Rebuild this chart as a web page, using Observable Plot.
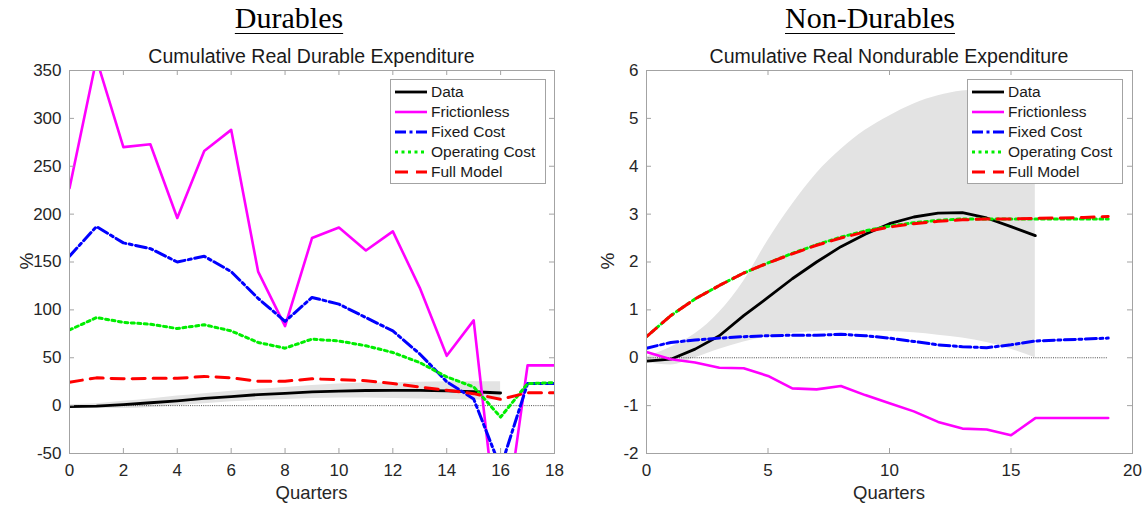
<!DOCTYPE html>
<html>
<head>
<meta charset="utf-8">
<script src="https://cdn.jsdelivr.net/npm/d3@7"></script>
<script src="https://cdn.jsdelivr.net/npm/@observablehq/plot@0.6"></script>
<style>
  body { margin: 0; background: white; }
  #root { position: relative; width: 1146px; height: 506px; background: white; overflow: hidden; font-family: "Liberation Sans", Arial, sans-serif; }
  .panel { position: absolute; top: 0; width: 573px; height: 506px; }
  .head { position: absolute; width: 400px; text-align: center; font-family: "Liberation Serif", "DejaVu Serif", serif; font-size: 30px; color: #000; text-decoration: underline; text-decoration-thickness: 1.3px; text-underline-offset: 5px; line-height: 1; z-index: 3; }
  .sub { position: absolute; width: 500px; text-align: center; font-size: 19.5px; color: #1a1a1a; line-height: 1; z-index: 3; }
  .plotwrap { position: absolute; left: 0; top: 60px; z-index: 1; }
  .ylab { position: absolute; font-size: 19px; color: #262626; transform: translate(-50%, -50%) rotate(-90deg); line-height: 1; z-index: 3; }
  .xlab { position: absolute; width: 200px; text-align: center; font-size: 18.5px; color: #262626; line-height: 1; z-index: 3; }
  .legend { position: absolute; z-index: 4; }
</style>
</head>
<body>
<div id="root"></div>
<script>
// ---------------- DATA ----------------
const seriesNames = ["Data", "Frictionless", "Fixed Cost", "Operating Cost", "Full Model"];

// Durables panel
const durTitle = "Durables";
const durSubtitle = "Cumulative Real Durable Expenditure";
const durQuarters = [0, 1, 2, 3, 4, 5, 6, 7, 8, 9, 10, 11, 12, 13, 14, 15, 16, 17, 18];
const durDataQuarters = [0, 1, 2, 3, 4, 5, 6, 7, 8, 9, 10, 11, 12, 13, 14, 15, 16];
const durData = [-1, -0.5, 1, 3, 5, 7.5, 9.5, 11.5, 12.8, 14.3, 15.2, 15.8, 16, 16, 15.5, 14.5, 13.2];
const durBandLow = [-1.5, -3, -3, -2, 0, 2, 4, 5.5, 6.5, 7.5, 8, 8, 7.5, 7, 6.5, 6, 5.5];
const durBandHigh = [1, 2, 4.5, 7, 10, 12.5, 15, 17, 19, 21, 22.5, 23.5, 24, 24.5, 25, 25, 25];
const durFrictionless = [227, 362, 270, 273, 196, 266, 288, 140, 83, 175, 186, 162, 182, 123, 52, 89, -160, 42, 42];
const durFixed = [156, 187, 170, 164, 150, 156, 140, 112, 88, 113, 106, 92, 78, 54, 25, 7, -65, 23, 23];
const durOperating = [79, 92, 87, 85, 80.5, 84.5, 78, 66, 60, 69.5, 67.5, 62.5, 55.5, 45, 30, 19.5, -12, 23, 24];
const durFull = [24.5, 29, 28, 28.5, 28.5, 30.5, 29, 25.5, 25.5, 28, 27, 26, 23, 19.5, 16, 12.5, 6.5, 13.5, 13.5];
const durXTicks = [0, 2, 4, 6, 8, 10, 12, 14, 16, 18];
const durYTicks = [-50, 0, 50, 100, 150, 200, 250, 300, 350];

// Non-durables panel
const ndTitle = "Non-Durables";
const ndSubtitle = "Cumulative Real Nondurable Expenditure";
const ndQuarters = [0, 1, 2, 3, 4, 5, 6, 7, 8, 9, 10, 11, 12, 13, 14, 15, 16, 17, 18, 19];
const ndDataQuarters = [0, 1, 2, 3, 4, 5, 6, 7, 8, 9, 10, 11, 12, 13, 14, 15, 16];
const ndData = [-0.07, -0.03, 0.18, 0.46, 0.88, 1.26, 1.65, 2.0, 2.32, 2.58, 2.8, 2.94, 3.02, 3.03, 2.92, 2.74, 2.55];
const ndBandLow = [-0.1, -0.15, 0.0, 0.18, 0.33, 0.44, 0.51, 0.55, 0.57, 0.56, 0.55, 0.52, 0.47, 0.41, 0.32, 0.18, 0.0];
const ndBandHigh = [0.02, 0.22, 0.5, 0.95, 1.6, 2.45, 3.2, 3.85, 4.35, 4.75, 5.05, 5.3, 5.47, 5.57, 5.6, 5.6, 5.58];
const ndFrictionless = [0.12, -0.03, -0.1, -0.21, -0.22, -0.38, -0.64, -0.66, -0.59, -0.78, -0.95, -1.12, -1.34, -1.48, -1.5, -1.62, -1.26, -1.26, -1.26, -1.26];
const ndFixed = [0.2, 0.32, 0.37, 0.41, 0.44, 0.46, 0.47, 0.47, 0.49, 0.46, 0.41, 0.34, 0.27, 0.23, 0.21, 0.27, 0.35, 0.37, 0.39, 0.41];
const ndOperating = [0.44, 0.88, 1.23, 1.51, 1.77, 1.98, 2.18, 2.36, 2.52, 2.65, 2.75, 2.82, 2.87, 2.9, 2.9, 2.9, 2.9, 2.9, 2.9, 2.9];
const ndFull = [0.44, 0.88, 1.23, 1.51, 1.77, 1.98, 2.17, 2.35, 2.5, 2.63, 2.73, 2.8, 2.85, 2.88, 2.9, 2.9, 2.91, 2.92, 2.93, 2.95];
const ndXTicks = [0, 5, 10, 15, 20];
const ndYTicks = [-2, -1, 0, 1, 2, 3, 4, 5, 6];

const xLabel = "Quarters";
const yLabel = "%";

// ---------------- STYLES ----------------
const styles = {
  "Data":           {stroke: "#000000", strokeWidth: 2.8, dash: null},
  "Frictionless":   {stroke: "#ff00ff", strokeWidth: 2.6, dash: null},
  "Fixed Cost":     {stroke: "#0000ff", strokeWidth: 3, dash: "11,3.5,3,3.5"},
  "Operating Cost": {stroke: "#00ee00", strokeWidth: 3, dash: "3,3.5"},
  "Full Model":     {stroke: "#ff0000", strokeWidth: 3, dash: "13,8"}
};

const W = 573, H = 446, MT = 10, MB = 53;
const frameColor = "#a3a3a3";

function rows(xs, ys) { return ys.map((v, i) => ({q: xs[i], v})); }
function bandRows(xs, lo, hi) { return lo.map((l, i) => ({q: xs[i], lo: l, hi: hi[i]})); }

function makePlot(cfg) {
  const plotW = W - cfg.mL - cfg.mR;
  const plotH = H - MT - MB;
  const lineMarks = cfg.series.map(s => {
    const st = styles[s.name];
    return Plot.line(rows(s.x, s.y), {
      x: "q", y: "v", stroke: st.stroke, strokeWidth: st.strokeWidth,
      strokeDasharray: st.dash, clip: true, strokeLinejoin: "round"
    });
  });
  return Plot.plot({
    width: W, height: H,
    marginLeft: cfg.mL, marginRight: cfg.mR, marginTop: MT, marginBottom: MB,
    x: {domain: cfg.xDomain},
    y: {domain: cfg.yDomain},
    style: {fontFamily: '"Liberation Sans", Arial, sans-serif', background: "transparent", color: "#262626", overflow: "visible"},
    marks: [
      Plot.areaY(bandRows(cfg.bandX, cfg.bandLo, cfg.bandHi), {x: "q", y1: "lo", y2: "hi", fill: "#e3e3e3", curve: "monotone-x", clip: true}),
      Plot.ruleY([0], {x1: d3.min(cfg.zeroX), x2: d3.max(cfg.zeroX), stroke: "#222", strokeWidth: 0.8, strokeDasharray: "1,1.2"}),
      ...lineMarks,
      Plot.frame({stroke: frameColor, strokeWidth: 1}),
      Plot.tickY(cfg.yTicks, {y: d => d, insetRight: plotW - 5, stroke: frameColor}),
      Plot.tickY(cfg.yTicks, {y: d => d, insetLeft: plotW - 5, stroke: frameColor}),
      Plot.tickX(cfg.xTicks, {x: d => d, insetTop: plotH - 5, stroke: frameColor}),
      Plot.tickX(cfg.xTicks, {x: d => d, insetBottom: plotH - 5, stroke: frameColor}),
      Plot.axisX({ticks: cfg.xTicks, tickSize: 0, tickPadding: 10, label: null, fontSize: 17, fill: "#262626", tickFormat: d => String(d)}),
      Plot.axisY({ticks: cfg.yTicks, tickSize: 0, tickPadding: 8, label: null, fontSize: 17, fill: "#262626", tickFormat: d => String(d)})
    ]
  });
}

function makeLegend(left, top) {
  const w = 156, h = 105;
  const svg = d3.create("svg").attr("class", "legend").attr("width", w).attr("height", h)
    .style("left", left + "px").style("top", top + "px").style("position", "absolute");
  svg.append("rect").attr("x", 0.5).attr("y", 0.5).attr("width", w - 1).attr("height", h - 1)
    .attr("fill", "white").attr("stroke", frameColor);
  seriesNames.forEach((name, i) => {
    const st = styles[name];
    const cy = 13 + i * 20;
    const ln = svg.append("line").attr("x1", 5).attr("x2", 37).attr("y1", cy).attr("y2", cy)
      .attr("stroke", st.stroke).attr("stroke-width", st.strokeWidth);
    if (st.dash) ln.attr("stroke-dasharray", st.dash);
    svg.append("text").attr("x", 41).attr("y", cy).attr("dy", "0.35em")
      .attr("font-size", 15.5).attr("fill", "#1a1a1a")
      .attr("font-family", '"Liberation Sans", Arial, sans-serif').text(name);
  });
  return svg.node();
}

function buildPanel(opt) {
  const panel = document.createElement("div");
  panel.className = "panel";
  panel.style.left = opt.left + "px";

  const wrap = document.createElement("div");
  wrap.className = "plotwrap";
  wrap.appendChild(makePlot(opt.cfg));
  panel.appendChild(wrap);

  const head = document.createElement("div");
  head.className = "head";
  head.textContent = opt.title;
  head.style.left = (opt.titleCx - 200) + "px";
  head.style.top = "3px";
  panel.appendChild(head);

  const plotCx = opt.cfg.mL + (W - opt.cfg.mL - opt.cfg.mR) / 2;
  const sub = document.createElement("div");
  sub.className = "sub";
  sub.textContent = opt.subtitle;
  sub.style.left = (plotCx - 250) + "px";
  sub.style.top = "47px";
  panel.appendChild(sub);

  const yl = document.createElement("div");
  yl.className = "ylab";
  yl.textContent = yLabel;
  yl.style.left = opt.yLabX + "px";
  yl.style.top = "261px";
  panel.appendChild(yl);

  const xl = document.createElement("div");
  xl.className = "xlab";
  xl.textContent = xLabel;
  xl.style.left = (plotCx - 100) + "px";
  xl.style.top = "484px";
  panel.appendChild(xl);

  panel.appendChild(makeLegend(opt.legendLeft, 79));
  document.getElementById("root").appendChild(panel);
}

buildPanel({
  left: 0, title: durTitle, subtitle: durSubtitle, titleCx: 289, yLabX: 26, legendLeft: 390,
  cfg: {
    mL: 69, mR: 19, xDomain: [0, 18], yDomain: [-50, 350],
    xTicks: durXTicks, yTicks: durYTicks,
    bandX: durDataQuarters, bandLo: durBandLow, bandHi: durBandHigh, zeroX: durQuarters,
    series: [
      {name: "Data", x: durDataQuarters, y: durData},
      {name: "Frictionless", x: durQuarters, y: durFrictionless},
      {name: "Fixed Cost", x: durQuarters, y: durFixed},
      {name: "Operating Cost", x: durQuarters, y: durOperating},
      {name: "Full Model", x: durQuarters, y: durFull}
    ]
  }
});

buildPanel({
  left: 573, title: ndTitle, subtitle: ndSubtitle, titleCx: 297, yLabX: 34, legendLeft: 394,
  cfg: {
    mL: 73, mR: 14, xDomain: [0, 20], yDomain: [-2, 6],
    xTicks: ndXTicks, yTicks: ndYTicks,
    bandX: ndDataQuarters, bandLo: ndBandLow, bandHi: ndBandHigh, zeroX: ndQuarters,
    series: [
      {name: "Data", x: ndDataQuarters, y: ndData},
      {name: "Frictionless", x: ndQuarters, y: ndFrictionless},
      {name: "Fixed Cost", x: ndQuarters, y: ndFixed},
      {name: "Operating Cost", x: ndQuarters, y: ndOperating},
      {name: "Full Model", x: ndQuarters, y: ndFull}
    ]
  }
});
</script>
</body>
</html>
